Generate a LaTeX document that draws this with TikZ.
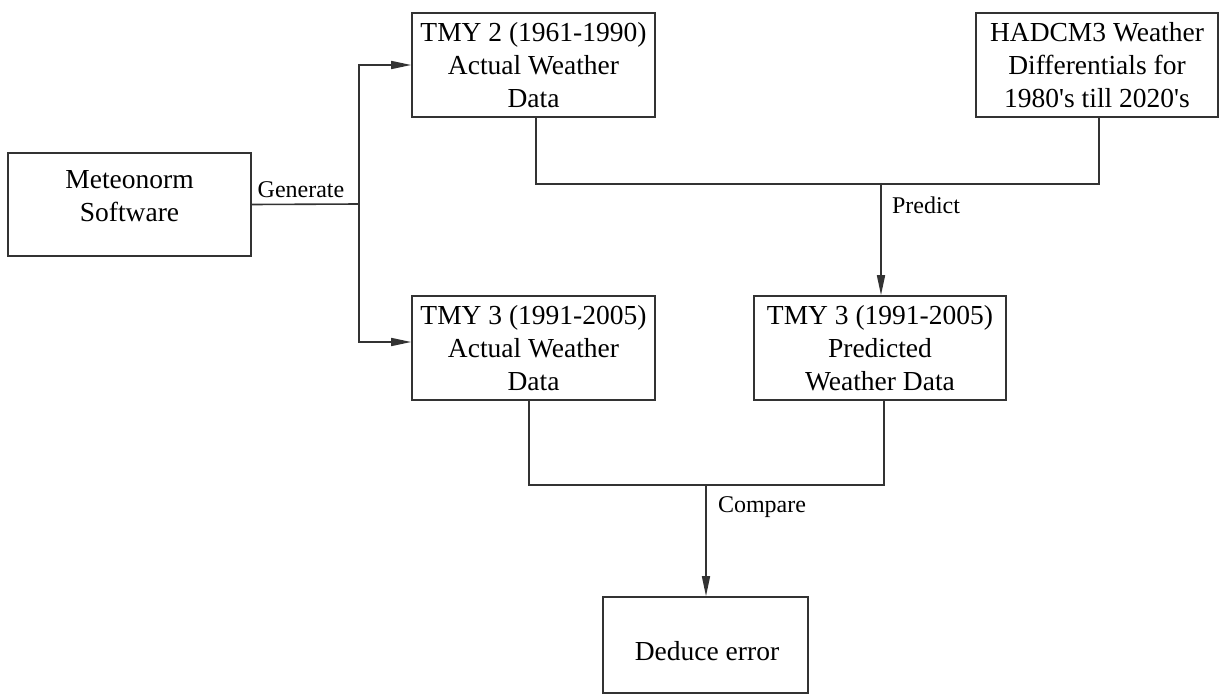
\documentclass[tikz,border=0pt]{standalone}
\usepackage{fontspec}
\setmainfont{Liberation Serif}[Ligatures=TeXOff]
\usetikzlibrary{arrows.meta,calc}
\begin{document}
\begin{tikzpicture}[x=1bp,y=-1bp,
  box/.style={draw=black!80,line width=1.6bp,rectangle,inner sep=0pt,align=center,
    font=\fontsize{27.5bp}{33bp}\selectfont},
  txt/.style={inner sep=0pt,align=center,font=\fontsize{27.5bp}{33bp}\selectfont},
  lbl/.style={inner sep=0pt,font=\fontsize{24bp}{28bp}\selectfont},
  conn/.style={draw=black!80,line width=1.6bp},
  arr/.style={conn,-{Triangle[length=20bp,width=8bp]}}]
\useasboundingbox (0,0) rectangle (1219,696);
% boxes
\node[box,minimum width=243bp,minimum height=103bp] (met) at (129.5,204.5) {};
\node[txt] (mett) at (129.5,196) {Meteonorm\\Software};
\node[box,minimum width=243bp,minimum height=104bp] (tmy2) at (533.5,65) {TMY 2 (1961-1990)\\Actual Weather\\Data};
\node[box,minimum width=242bp,minimum height=104bp] (had) at (1097,65) {HADCM3 Weather\\Differentials for\\1980's till 2020's};
\node[box,minimum width=243bp,minimum height=104bp] (tmy3a) at (533.5,348) {TMY 3 (1991-2005)\\Actual Weather\\Data};
\node[box,minimum width=252bp,minimum height=104bp] (tmy3p) at (880,348) {TMY 3 (1991-2005)\\Predicted\\Weather Data};
\node[box,minimum width=205bp,minimum height=96bp] (ded) at (705.5,645) {};
\node[txt] (dedt) at (707,651) {Deduce error};
% connectors
\coordinate (g) at (359,204);
\draw[conn] (met.east) -- (g);
\draw[arr] (g) |- (tmy2.west);
\draw[arr] (g) |- ([yshift=6bp]tmy3a.west);
\node[lbl] (gen) at (301,190) {Generate};
\draw[conn] ([xshift=2.5bp]tmy2.south) -- ++(0,66) -| ([xshift=2bp]had.south);
\coordinate (p) at (881,183);
\draw[arr] (p) -- ([xshift=1bp]tmy3p.north);
\node[lbl] (pred) at (926,205) {Predict};
\draw[conn] ([xshift=-4.5bp]tmy3a.south) -- ++(0,84) -| ([xshift=4bp]tmy3p.south);
\coordinate (c) at (706,484);
\draw[arr] (c) -- ([xshift=0.5bp]ded.north);
\node[lbl] (cmp) at (762,507) {Compare};
\end{tikzpicture}
\end{document}
